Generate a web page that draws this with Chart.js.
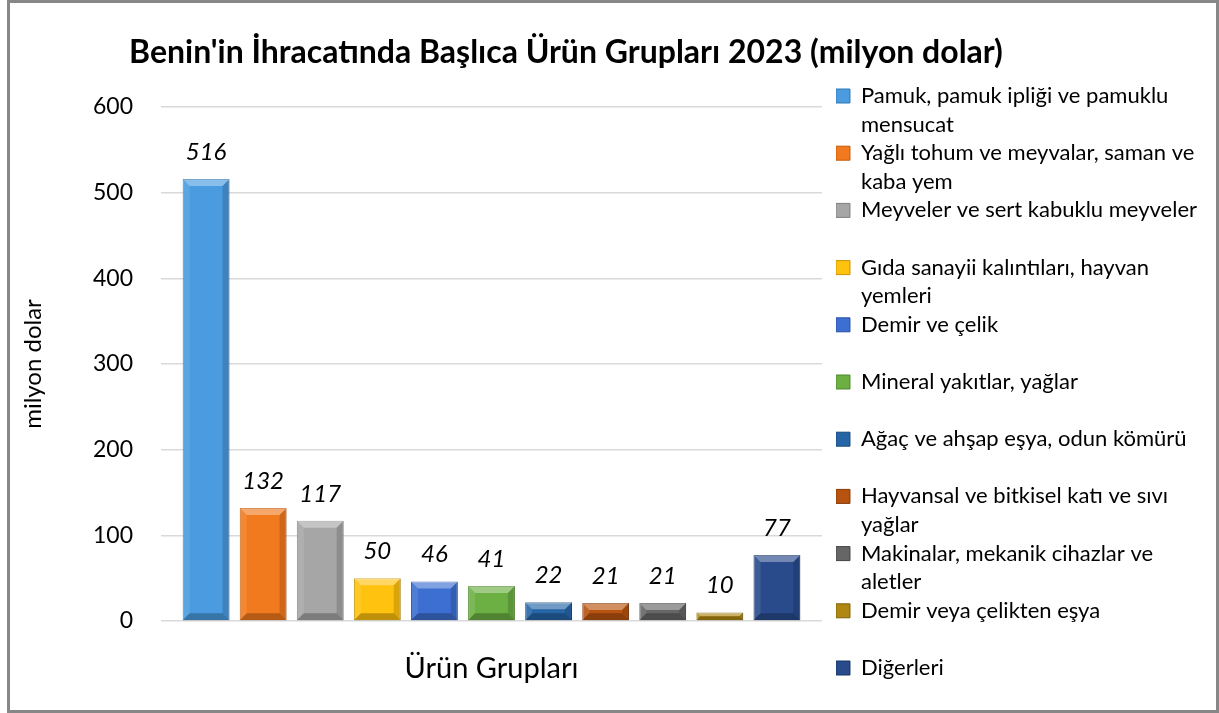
<!DOCTYPE html>
<html lang="tr">
<head>
    <meta charset="UTF-8">
    <title>Benin'in İhracatında Başlıca Ürün Grupları 2023</title>
    <style>
        body {
            margin: 0;
            font-family: "Lato", sans-serif;
            background: #fff;
        }
        .frame {
            position: absolute;
            left: 7px;
            top: 0;
            width: 1212px;
            height: 713px;
            box-sizing: border-box;
            border: 3px solid #878787;
        }
        .title {
            position: absolute;
            left: 0;
            width: 1112px;
            top: 28px;
            text-align: center;
            font-weight: bold;
            font-size: 32px;
            line-height: 40px;
            color: #000;
        }
        .box {
            position: absolute;
            left: 3px;
            top: 3px;
            width: 1206px;
            height: 707px;
        }
    </style>
    <script src="https://cdn.jsdelivr.net/npm/chart.js"></script>
</head>
<body>
    <div class="frame">
        <div class="box"><canvas id="chart"></canvas></div>
        <div class="title">Benin'in İhracatında Başlıca Ürün Grupları 2023 (milyon dolar)</div>
    </div>

    <script>
        // veriler
        const categories = ['Ürün Grupları'];
        const seriesNames = [
            'Pamuk, pamuk ipliği ve pamuklu\nmensucat',
            'Yağlı tohum ve meyvalar, saman ve\nkaba yem',
            'Meyveler ve sert kabuklu meyveler',
            'Gıda sanayii kalıntıları, hayvan\nyemleri',
            'Demir ve çelik',
            'Mineral yakıtlar, yağlar',
            'Ağaç ve ahşap eşya, odun kömürü',
            'Hayvansal ve bitkisel katı ve sıvı\nyağlar',
            'Makinalar, mekanik cihazlar ve\naletler',
            'Demir veya çelikten eşya',
            'Diğerleri'
        ];
        const values = [516, 132, 117, 50, 46, 41, 22, 21, 21, 10, 77];
        const barColors = ['#4a9be0', '#f27a1e', '#a6a6a6', '#ffc20e', '#3c6fd1', '#6cb043',
                           '#2565a6', '#b8530f', '#666666', '#b08712', '#294b8c'];
        const edgeColors = ['#2f78b8', '#c15a0c', '#7f7f7f', '#c99400', '#2a52a0', '#4f8a2c',
                            '#184a7c', '#873a08', '#444444', '#80620a', '#1b3466'];
        const yTicks = [0, 100, 200, 300, 400, 500, 600];

        // bevel efekti + veri etiketleri
        const barDecor = {
            id: 'barDecor',
            afterDatasetsDraw(chart) {
                const ctx = chart.ctx;
                ctx.save();
                chart.data.datasets.forEach((ds, i) => {
                    const meta = chart.getDatasetMeta(i);
                    meta.data.forEach((el, j) => {
                        const p = el.getProps(['x', 'y', 'base', 'width'], true);
                        const l = p.x - p.width / 2, r = p.x + p.width / 2;
                        const t = p.y, b = p.base;
                        const bv = Math.min(7, (b - t) / 2);
                        const poly = (pts, fill) => {
                            ctx.beginPath();
                            ctx.moveTo(pts[0][0], pts[0][1]);
                            for (let k = 1; k < pts.length; k++) ctx.lineTo(pts[k][0], pts[k][1]);
                            ctx.closePath();
                            ctx.fillStyle = fill;
                            ctx.fill();
                        };
                        poly([[l, t], [r, t], [r - bv, t + bv], [l + bv, t + bv]], 'rgba(255,255,255,0.35)');
                        poly([[l, t], [l + bv, t + bv], [l + bv, b - bv], [l, b]], 'rgba(255,255,255,0.10)');
                        poly([[r, t], [r - bv, t + bv], [r - bv, b - bv], [r, b]], 'rgba(0,0,0,0.15)');
                        poly([[l, b], [l + bv, b - bv], [r - bv, b - bv], [r, b]], 'rgba(0,0,0,0.25)');

                        ctx.fillStyle = '#000';
                        ctx.font = 'italic 24px Lato';
                        ctx.textAlign = 'center';
                        ctx.textBaseline = 'middle';
                        ctx.fillText(ds.data[j], p.x, t - 27);
                    });
                });
                ctx.restore();
            }
        };

        const datasets = seriesNames.map((name, i) => ({
            label: name.replace('\n', ' '),
            data: [values[i]],
            backgroundColor: barColors[i],
            borderColor: edgeColors[i],
            borderWidth: 1,
            barPercentage: 0.82,
            categoryPercentage: 0.95
        }));

        new Chart(document.getElementById('chart'), {
            type: 'bar',
            data: { labels: categories, datasets: datasets },
            options: {
                responsive: true,
                maintainAspectRatio: false,
                animation: false,
                layout: { padding: { top: 79, left: 4, right: 12, bottom: 0 } },
                plugins: {
                    tooltip: { enabled: false },
                    legend: {
                        position: 'right',
                        align: 'start',
                        maxWidth: 440,
                        labels: {
                            boxWidth: 14,
                            boxHeight: 14,
                            padding: 0,
                            color: '#000',
                            font: { family: 'Lato', size: 22, lineHeight: 1.3 },
                            generateLabels(chart) {
                                return chart.data.datasets.map((ds, i) => {
                                    const lines = seriesNames[i].split('\n');
                                    if (lines.length < 2 && i < seriesNames.length - 1) lines.push('');
                                    return {
                                        text: lines,
                                        fillStyle: barColors[i],
                                        strokeStyle: edgeColors[i],
                                        lineWidth: 1,
                                        fontColor: '#000',
                                        hidden: false,
                                        datasetIndex: i
                                    };
                                });
                            }
                        }
                    }
                },
                scales: {
                    x: {
                        grid: { display: false, drawTicks: false },
                        border: { display: false },
                        ticks: { color: '#000', padding: 30, font: { family: 'Lato', size: 29 } },
                        afterFit(s) { s.height = 92; }
                    },
                    xTop: {
                        type: 'category',
                        labels: categories,
                        position: 'top',
                        grid: { display: false, drawTicks: false },
                        border: { display: false },
                        ticks: { display: false },
                        afterFit(s) { s.height = 22; }
                    },
                    y: {
                        min: 0,
                        max: 600,
                        afterBuildTicks(s) { s.ticks = yTicks.map(v => ({ value: v })); },
                        grid: { color: '#d9d9d9', lineWidth: 1.5, drawTicks: false },
                        border: { display: false },
                        ticks: { color: '#000', padding: 28, font: { family: 'Lato', size: 23 } },
                        title: {
                            display: true,
                            text: 'milyon dolar',
                            color: '#000',
                            font: { family: 'Lato', size: 24 },
                            padding: { top: 2, bottom: 4 }
                        },
                        afterFit(s) { s.width = 144; }
                    },
                    yRight: {
                        type: 'linear',
                        position: 'right',
                        grid: { display: false, drawTicks: false },
                        border: { display: false },
                        ticks: { display: false },
                        afterFit(s) { s.width = 14; }
                    }
                }
            },
            plugins: [barDecor]
        });
    </script>
</body>
</html>
